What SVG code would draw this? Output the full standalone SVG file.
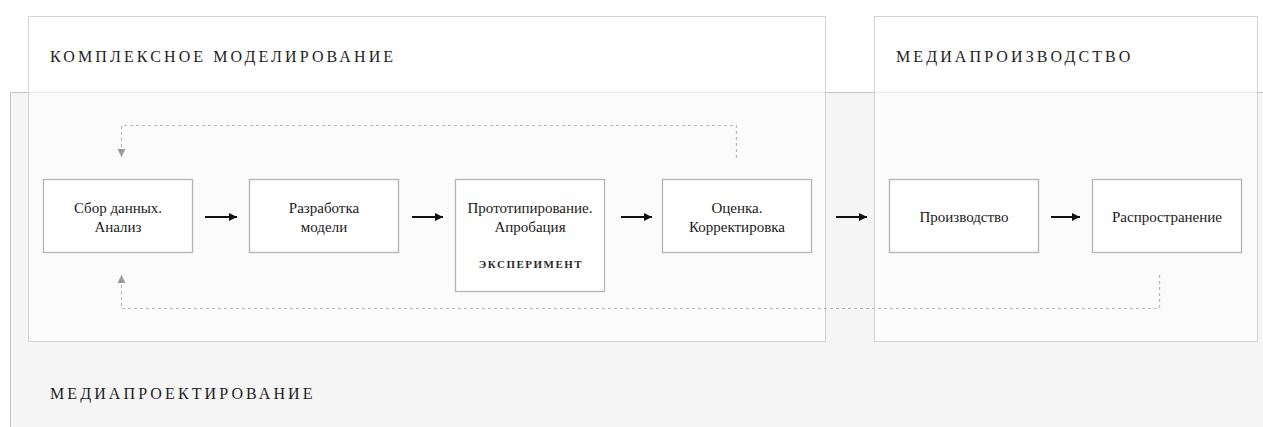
<svg xmlns="http://www.w3.org/2000/svg" width="1263" height="427" viewBox="0 0 1263 427">
  <defs>
    <marker id="head" viewBox="0 0 10 10" refX="10" refY="5" markerWidth="8" markerHeight="8" markerUnits="userSpaceOnUse" orient="auto">
      <path d="M0,0 L10,5 L0,10 Z" fill="#111"/>
    </marker>
    <marker id="headGray" viewBox="0 0 10 10" refX="10" refY="5" markerWidth="11" markerHeight="8" markerUnits="userSpaceOnUse" orient="auto">
      <path d="M0,0 L10,5 L0,10 Z" fill="#9a9a9a"/>
    </marker>
  </defs>
  <style>
    .zone { fill: #ffffff; fill-opacity: 0.6; stroke: #d2d2d2; stroke-width: 1; }
    .zone-top { fill: #ffffff; }
    .title { font-family: "Liberation Serif", "Times New Roman", serif; font-size: 16px; letter-spacing: 3.1px; fill: #1e1e1e; }
    .box { fill: #ffffff; stroke: #b4b4b4; stroke-width: 1.3; }
    .label { font-family: "Liberation Serif", "Times New Roman", serif; font-size: 15px; fill: #1a1a1a; text-anchor: middle; }
    .small { font-family: "Liberation Serif", "Times New Roman", serif; font-size: 11px; letter-spacing: 1.5px; fill: #2a2a2a; text-anchor: middle; font-weight: bold; }
    .flow { stroke: #111; stroke-width: 2; fill: none; }
    .loop { stroke: #b8b8b8; stroke-width: 1.2; stroke-dasharray: 3 3; fill: none; }
  </style>

  <rect width="1263" height="427" fill="#ffffff"/>

  <!-- Media design: background panel -->
  <g id="media-design">
    <rect x="10.5" y="92.5" width="1253" height="335" fill="#f5f5f5"/>
    <path d="M10.5,427 V92.5 H1263" fill="none" stroke="#c4c4c4"/>
    <text class="title" x="50" y="399">МЕДИАПРОЕКТИРОВАНИЕ</text>
  </g>

  <!-- Complex modelling zone -->
  <g id="complex-modelling">
    <rect class="zone" x="28.5" y="16.5" width="797" height="325"/>
    <rect class="zone-top" x="29" y="17" width="796" height="75"/>
    <text class="title" x="50" y="62">КОМПЛЕКСНОЕ МОДЕЛИРОВАНИЕ</text>
  </g>

  <!-- Media production zone -->
  <g id="media-production">
    <rect class="zone" x="874.5" y="16.5" width="383" height="325"/>
    <rect class="zone-top" x="875" y="17" width="382" height="75"/>
    <text class="title" x="896" y="62">МЕДИАПРОИЗВОДСТВО</text>
  </g>

  <!-- Connectors -->
  <g id="connectors">
    <line class="flow" x1="205" y1="217" x2="237" y2="217" marker-end="url(#head)"/>
    <line class="flow" x1="412" y1="217" x2="443" y2="217" marker-end="url(#head)"/>
    <line class="flow" x1="621" y1="217" x2="652" y2="217" marker-end="url(#head)"/>
    <line class="flow" x1="836" y1="217" x2="867" y2="217" marker-end="url(#head)"/>
    <line class="flow" x1="1051" y1="217" x2="1080" y2="217" marker-end="url(#head)"/>
    <!-- feedback loops -->
    <path class="loop" d="M736.5,158 V125.5 H121.5 V157" marker-end="url(#headGray)"/>
    <path class="loop" d="M1159.5,275 V308.5 H121.5 V275" marker-end="url(#headGray)"/>
  </g>

  <g id="node-collect">
    <rect class="box" x="43.5" y="179.5" width="149" height="73"/>
    <text class="label" x="118" y="213">Сбор данных.</text>
    <text class="label" x="118" y="232">Анализ</text>
  </g>

  <g id="node-model">
    <rect class="box" x="249.5" y="179.5" width="149" height="73"/>
    <text class="label" x="324" y="213">Разработка</text>
    <text class="label" x="324" y="232">модели</text>
  </g>

  <g id="node-prototype">
    <rect class="box" x="455.5" y="179.5" width="149" height="112"/>
    <text class="label" x="530" y="213">Прототипирование.</text>
    <text class="label" x="530" y="232">Апробация</text>
    <text class="small" x="531" y="268">ЭКСПЕРИМЕНТ</text>
  </g>

  <g id="node-evaluate">
    <rect class="box" x="662.5" y="179.5" width="149" height="73"/>
    <text class="label" x="737" y="213">Оценка.</text>
    <text class="label" x="737" y="232">Корректировка</text>
  </g>

  <g id="node-produce">
    <rect class="box" x="889.5" y="179.5" width="149" height="73"/>
    <text class="label" x="964" y="222">Производство</text>
  </g>

  <g id="node-distribute">
    <rect class="box" x="1092.5" y="179.5" width="149" height="73"/>
    <text class="label" x="1167" y="222">Распространение</text>
  </g>
</svg>
